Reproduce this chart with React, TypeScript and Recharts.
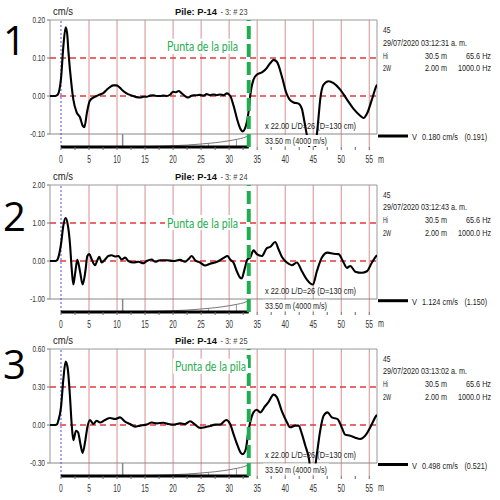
import { LineChart, Line, XAxis, YAxis, ReferenceLine } from 'recharts';

// trace 1 (# 23): distance along pile (m) / velocity (cm/s)
const dist1 = [-1.96, -1, -0.6, -0.3, 0, 0.42, 0.83, 1.1, 1.31, 1.9, 2.2, 2.8, 3.39, 3.87, 4.17, 4.64, 5.12, 5.77, 6.37, 6.96, 7.6, 8.2, 8.8, 9.3, 9.9, 10.5, 11.1, 11.7, 12.3, 12.9, 13.5, 14.1, 14.7, 15.3, 15.9, 16.5, 17.1, 17.7, 18.3, 18.9, 19.5, 20.0, 20.5, 21.0, 21.4, 21.8, 22.3, 22.7, 23.2, 23.6, 24.2, 24.8, 25.4, 26.0, 26.6, 27.2, 27.8, 28.4, 29.0, 29.6, 30.2, 30.8, 31.4, 32.0, 32.4, 33.0, 33.45, 33.75, 34.35, 34.94, 35.83, 36.43, 37.32, 37.92, 38.51, 39.4, 40.18, 40.77, 41.49, 42.38, 42.98, 43.45, 43.87, 44.9, 45.66, 45.95, 46.25, 46.85, 47.74, 48.63, 49.82, 51.01, 52.2, 53.39, 53.99, 54.58, 55.48, 56.25, 56.38];
const vel1 = [0, 0, 0.003, 0.015, 0.045, 0.13, 0.181, 0.165, 0.12, 0.026, -0.009, -0.043, -0.056, -0.078, -0.082, -0.043, -0.013, -0.004, 0, 0.004, 0.008, 0.017, 0.024, 0.028, 0.028, 0.022, 0.013, 0.007, 0.003, 0, -0.003, -0.004, -0.002, -0.002, 0.001, 0.002, 0, 0, 0.001, 0, 0.004, 0.011, 0.01, 0.013, 0.009, 0.004, -0.002, -0.004, 0, 0.002, 0.002, 0.003, 0.001, 0.005, 0.002, 0.004, 0.002, 0.004, 0.002, 0.007, 0, -0.026, -0.06, -0.086, -0.093, -0.078, -0.043, 0, 0.043, 0.056, 0.062, 0.069, 0.086, 0.095, 0.09, 0.052, 0.009, -0.009, -0.017, -0.02, -0.034, -0.069, -0.103, -0.16, -0.1, -0.056, -0.009, 0.03, 0.039, 0.034, 0.017, -0.009, -0.034, -0.052, -0.058, -0.047, -0.009, 0.026, 0.03];

// trace 2 (# 24)
const dist2 = [-1.96, -1, -0.7, -0.48, 0, 0.42, 0.83, 1.19, 1.61, 1.9, 2.2, 2.5, 2.92, 3.39, 3.87, 4.35, 4.7, 5.06, 5.48, 6.07, 6.55, 6.85, 7.26, 7.86, 8.45, 9.05, 9.64, 10.24, 10.83, 11.43, 12.02, 12.92, 13.81, 14.7, 15.3, 16.19, 16.79, 17.68, 18.87, 20.06, 21.25, 22.14, 22.74, 23.33, 23.93, 24.82, 25.71, 26.61, 27.5, 28.39, 29.11, 29.7, 30.18, 30.77, 31.37, 31.96, 32.26, 32.74, 33.27, 33.75, 34.35, 34.94, 35.83, 36.73, 37.32, 38.21, 38.81, 39.4, 40.3, 41.19, 42.08, 42.98, 43.87, 44.94, 45.65, 46.55, 47.56, 48.63, 49.52, 50.42, 51.01, 51.61, 52.5, 53.69, 54.58, 55.48, 56.25, 56.38];
const vel2 = [0, 0, 0.02, 0.09, 0.44, 0.93, 1.13, 0.97, 0.44, -0.18, -0.62, -0.35, 0.03, -0.27, -0.62, -0.27, 0.13, 0.18, 0.04, -0.11, 0.04, 0.11, -0.04, 0.04, 0.13, 0.15, 0.12, 0.13, 0.04, 0.09, 0, -0.04, -0.02, -0.06, 0, 0.04, -0.02, 0.02, 0.02, 0, 0.03, -0.02, 0.05, 0.13, 0.02, -0.04, -0.12, -0.07, -0.04, 0.02, 0.09, 0.13, 0.04, -0.04, -0.27, -0.44, -0.46, -0.22, 0.04, 0.09, 0.28, 0.18, 0.13, 0.34, 0.37, 0.5, 0.31, 0.11, -0.04, -0.11, -0.04, -0.27, -0.49, -0.62, -0.27, 0.09, 0.22, 0.19, 0.18, -0.04, -0.18, -0.13, -0.28, -0.31, -0.27, -0.04, 0.13, 0.15];

// trace 3 (# 25)
const dist3 = [-1.96, -1, -0.7, -0.48, 0, 0.42, 0.83, 1.19, 1.61, 1.9, 2.2, 2.68, 3.04, 3.51, 3.87, 4.35, 4.7, 5.18, 5.77, 6.37, 6.96, 7.86, 8.75, 9.64, 10.54, 11.43, 12.32, 13.21, 14.11, 15.3, 16.19, 17.08, 18.27, 19.17, 20.06, 21.25, 22.14, 23.04, 23.93, 24.82, 25.71, 26.61, 27.5, 28.39, 29.46, 30.18, 30.77, 31.49, 32.08, 32.44, 32.98, 33.45, 33.75, 34.35, 34.94, 35.54, 36.43, 37.02, 37.92, 38.51, 39.4, 40.18, 40.89, 41.79, 42.38, 42.98, 43.57, 44.17, 44.64, 45.18, 45.65, 46.25, 46.85, 47.56, 48.33, 49.35, 50.12, 50.71, 51.61, 52.5, 53.39, 54.29, 55.18, 56.25, 56.38];
const vel3 = [0, 0, 0.006, 0.034, 0.14, 0.36, 0.5, 0.45, 0.22, 0.01, -0.12, -0.045, -0.057, -0.16, -0.22, -0.12, -0.02, 0.04, 0.008, 0.034, 0.02, 0.04, 0.055, 0.047, 0.06, 0.026, 0.008, -0.013, -0.005, 0.003, 0.02, 0.013, 0.018, 0.008, 0.003, 0.013, 0.008, 0.03, 0.003, -0.023, -0.018, -0.008, 0.003, 0.003, 0.04, 0.008, -0.07, -0.16, -0.22, -0.23, -0.19, -0.044, 0.02, 0.1, 0.12, 0.1, 0.15, 0.18, 0.24, 0.22, 0.11, 0.034, -0.018, -0.005, -0.005, -0.07, -0.16, -0.25, -0.36, -0.36, -0.23, -0.044, 0.073, 0.1, 0.06, 0.047, -0.023, -0.076, -0.084, -0.1, -0.11, -0.084, -0.018, 0.073, 0.08];

const yTicks1 = [-0.1, 0, 0.1, 0.2];
const yTicks2 = [-1, 0, 1, 2];
const yTicks3 = [-0.3, 0, 0.3, 0.6];
const xTicks = [0, 2.5, 5, 7.5, 10, 12.5, 15, 17.5, 20, 22.5, 25, 27.5, 30, 32.5, 35, 37.5, 40, 42.5, 45, 47.5, 50, 52.5, 55];
const gridX = [5, 10, 15, 20, 25, 30, 35, 40, 45, 50, 55];
const pileTip = 33.5;
const xDomain = [-1.96, 56.38];

// length gauge in the lower strip: 0 = bottom bar, 1 = strip top
const gaugeDist = [11, 13, 15, 17.5, 20, 22.5, 25, 27.5, 30, 31.5, 32.5, 33.5];
const gaugeLevel = [0, 0.01, 0.03, 0.06, 0.1, 0.15, 0.23, 0.33, 0.48, 0.6, 0.7, 0.87];
const gaugeMarks = [26.3, 31.3];

const numerals = ['1', '2', '3'];
const shots = ['- 3: # 23', '- 3: # 24', '- 3: # 25'];
const times = ['29/07/2020 03:12:31 a. m.', '29/07/2020 03:12:43 a. m.', '29/07/2020 03:13:02 a. m.'];
const vMax = ['0.180 cm/s', '1.124 cm/s', '0.498 cm/s'];
const vRef = ['(0.191)', '(1.150)', '(0.521)'];

const SANS = "'Liberation Sans', Arial, sans-serif";
const TOP = 20;
const PLOT_H = 127;
const AX_H = 24;

const layout = [
  { top: 20, numY: 55, tipX: 167, tipY: 46.7 },
  { top: 184.7, numY: 231, tipX: 167, tipY: 223 },
  { top: 348.5, numY: 379, tipX: 175, tipY: 366.7 },
];

function narrow(s: string, digit: number) {
  let w = 0;
  for (const ch of s) w += ch === '.' ? digit * 0.5 : ch === '-' ? digit * 0.65 : digit;
  return w;
}

function YTick(props: any) {
  const { x, y, payload } = props;
  const s = Number(payload.value).toFixed(2);
  return (
    <text x={x} y={y + 3} textAnchor="end" fontSize={8.5} fontFamily={SANS} fill="#333"
      textLength={narrow(s, 3.6)} lengthAdjust="spacingAndGlyphs">{s}</text>
  );
}

function XTick(props: any) {
  const { x, y, payload } = props;
  const v = payload.value;
  if (v % 5 !== 0) return <g />;
  const s = String(v);
  return (
    <text x={x} y={y + 10.5} textAnchor="middle" fontSize={11.5} fontFamily={SANS} fill="#333"
      textLength={narrow(s, 3.75)} lengthAdjust="spacingAndGlyphs">{s}</text>
  );
}

function Panel({ top, dist, vel, ticks }: { top: number; dist: number[]; vel: number[]; ticks: number[] }) {
  const yMin = ticks[0];
  const yTop = ticks[ticks.length - 1];
  const yBot = yMin - (13 / 114) * (yTop - yMin);
  const lvl = (f: number) => yBot + f * (yMin - yBot);
  const data = dist.map((x, k) => ({ x, v: vel[k] }));
  const gauge = gaugeDist.map((x, k) => ({ x, g: lvl(gaugeLevel[k]) }));
  const gaugeAt = (x: number) => {
    for (let k = 1; k < gaugeDist.length; k++) {
      if (x <= gaugeDist[k]) {
        const t = (x - gaugeDist[k - 1]) / (gaugeDist[k] - gaugeDist[k - 1]);
        return lvl(gaugeLevel[k - 1] + t * (gaugeLevel[k] - gaugeLevel[k - 1]));
      }
    }
    return yMin;
  };
  const [x0, x1] = xDomain;

  return (
    <div style={{ position: 'absolute', left: 0, top: top - TOP }}>
      <LineChart width={500} height={TOP + PLOT_H + AX_H} data={data}
        margin={{ top: TOP, right: 123, bottom: 0, left: 0 }}>
        <XAxis type="number" dataKey="x" domain={xDomain} allowDataOverflow ticks={xTicks} interval={0}
          height={AX_H} axisLine={false} tickSize={3} tickMargin={2} tickLine={{ stroke: '#666' }} tick={XTick} />
        <YAxis type="number" domain={[yBot, yTop]} allowDataOverflow ticks={ticks} interval={0}
          width={50} axisLine={false} tickSize={3} tickMargin={2} tickLine={{ stroke: '#777' }} tick={YTick} />

        {gridX.map((x) => (
          <ReferenceLine key={x} x={x} stroke="#d69090" strokeWidth={1} ifOverflow="visible" />
        ))}
        <ReferenceLine y={yTop} stroke="#999" ifOverflow="visible" />
        <ReferenceLine y={yMin} stroke="#888" ifOverflow="visible" />
        <ReferenceLine segment={[{ x: x0, y: yMin }, { x: x0, y: yTop }]} stroke="#999" ifOverflow="visible" />
        <ReferenceLine segment={[{ x: x1, y: yMin }, { x: x1, y: yTop }]} stroke="#999" ifOverflow="visible" />
        <ReferenceLine y={ticks[2]} stroke="#e23a3e" strokeWidth={1.4} strokeDasharray="6 4" ifOverflow="visible" />
        <ReferenceLine y={0} stroke="#e23a3e" strokeWidth={1.4} strokeDasharray="6 4" ifOverflow="visible" />
        <ReferenceLine x={0} stroke="#4656dc" strokeWidth={1} strokeDasharray="2 2" ifOverflow="visible" />

        <ReferenceLine segment={[{ x: 11, y: yBot }, { x: 11, y: yMin }]} stroke="#888" strokeWidth={1.5} ifOverflow="visible" />
        {gaugeMarks.map((x) => (
          <ReferenceLine key={x} segment={[{ x, y: yBot }, { x, y: gaugeAt(x) }]} stroke="#999" strokeWidth={1} ifOverflow="visible" />
        ))}
        <Line data={gauge} dataKey="g" type="monotone" stroke="#777" strokeWidth={1} dot={false}
          activeDot={false} isAnimationActive={false} />
        <ReferenceLine segment={[{ x: 0, y: yBot }, { x: pileTip, y: yBot }]} stroke="#000" strokeWidth={3} ifOverflow="visible" />

        <Line dataKey="v" type="monotone" stroke="#000" strokeWidth={2.1} dot={false}
          activeDot={false} isAnimationActive={false} />
        <ReferenceLine x={pileTip} stroke="#1fae4f" strokeWidth={4} strokeDasharray="13 5" ifOverflow="visible" />
      </LineChart>
    </div>
  );
}

function Txt({ x, y, w, size = 9.5, weight, fill = '#222', family = SANS, children }: any) {
  return (
    <text x={x} y={y} fontSize={size} fontWeight={weight} fill={fill} fontFamily={family}
      textLength={w} lengthAdjust="spacingAndGlyphs">{children}</text>
  );
}

function Overlay() {
  return (
    <svg width={500} height={500} style={{ position: 'absolute', left: 0, top: 0, pointerEvents: 'none' }}>
      {layout.map((p, i) => {
        const T = p.top;
        return (
          <g key={i}>
            <text x={3} y={p.numY} fontSize={40} fontFamily="'Open Sans', sans-serif" fill="#000">{numerals[i]}</text>
            <Txt x={53} y={T - 5} w={20} size={10.5}>cm/s</Txt>
            <Txt x={175} y={T - 5} w={42} size={9.8} weight="bold" fill="#111">Pile: P-14</Txt>
            <Txt x={220.5} y={T - 5} w={27} size={8.5} fill="#444">{shots[i]}</Txt>

            <rect x={p.tipX - 2} y={p.tipY - 8} width={75} height={15} fill="#fff" />
            <Txt x={p.tipX} y={p.tipY + 4.5} w={71} size={13} fill="#1fae4f" family="Lato, 'Open Sans', sans-serif">Punta de la pila</Txt>

            <Txt x={383} y={T + 13} w={7.5}>45</Txt>
            <Txt x={383} y={T + 25.5} w={84}>{times[i]}</Txt>
            <Txt x={383} y={T + 38.5} w={5}>Hi</Txt>
            <Txt x={425} y={T + 38.5} w={22}>30.5 m</Txt>
            <Txt x={466} y={T + 38.5} w={25}>65.6 Hz</Txt>
            <Txt x={383} y={T + 51} w={8}>2W</Txt>
            <Txt x={425} y={T + 51} w={22}>2.00 m</Txt>
            <Txt x={458} y={T + 51} w={33}>1000.0 Hz</Txt>

            <Txt x={265} y={T + 109} w={91} size={9.5}>x 22.00  L/D=26 (D=130 cm)</Txt>
            <rect x={263} y={T + 115} width={66} height={11} fill="#fff" />
            <Txt x={265} y={T + 124} w={62} size={9.5}>33.50 m (4000 m/s)</Txt>

            <line x1={378} x2={408} y1={T + 116} y2={T + 116} stroke="#000" strokeWidth={3} />
            <Txt x={412} y={T + 120} w={5} size={8.5}>V</Txt>
            <Txt x={422} y={T + 120} w={36} size={8.5}>{vMax[i]}</Txt>
            <Txt x={464.5} y={T + 120} w={22.5} size={8.5}>{vRef[i]}</Txt>

            <Txt x={378} y={T + 142.5} w={6} size={11.5} fill="#333">m</Txt>
          </g>
        );
      })}
    </svg>
  );
}

export default function App() {
  return (
    <div style={{ position: 'absolute', left: 0, top: 0, width: 500, height: 500, background: '#fff', overflow: 'hidden' }}>
      <Panel top={layout[0].top} dist={dist1} vel={vel1} ticks={yTicks1} />
      <Panel top={layout[1].top} dist={dist2} vel={vel2} ticks={yTicks2} />
      <Panel top={layout[2].top} dist={dist3} vel={vel3} ticks={yTicks3} />
      <Overlay />
    </div>
  );
}
